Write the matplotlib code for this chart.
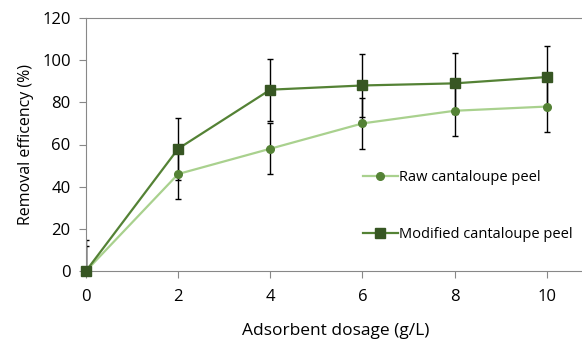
import matplotlib.pyplot as plt
from matplotlib.lines import Line2D

plt.rcParams['font.family'] = ['Open Sans', 'DejaVu Sans']

dosage = [0, 2, 4, 6, 8, 10]
raw = [0, 46, 58, 70, 76, 78]
modified = [0, 58, 86, 88, 89, 92]
raw_err = [12, 12, 12, 12, 12, 12]
mod_err = [14.7, 14.7, 14.7, 14.8, 14.6, 14.7]

raw_style = dict(color='#a9d18e', lw=1.6, marker='o', ms=5.5,
                 mfc='#548235', mec='#548235')
mod_style = dict(color='#548235', lw=1.6, marker='s', ms=6.5,
                 mfc='#375623', mec='#375623')

fig = plt.figure(figsize=(5.82, 3.4), dpi=100)
ax = fig.add_axes([86 / 582, 69 / 340, 500 / 582, 253 / 340])

# error bars (clipped at the axes), then lines + markers on top unclipped
ax.errorbar(dosage, raw, yerr=raw_err, fmt='none', ecolor='black',
            elinewidth=1, capsize=2.5, capthick=1, zorder=2)
ax.errorbar(dosage, modified, yerr=mod_err, fmt='none', ecolor='black',
            elinewidth=1, capsize=2.5, capthick=1, zorder=2)
ax.plot(dosage, raw, clip_on=False, zorder=3, **raw_style)
ax.plot(dosage, modified, clip_on=False, zorder=4, **mod_style)

ax.set_xlim(0, 10.85)
ax.set_ylim(0, 120)
ax.set_xticks([0, 2, 4, 6, 8, 10])
ax.set_yticks([0, 20, 40, 60, 80, 100, 120])
ax.tick_params(labelsize=12, color='#888888', length=5, pad=6)
ax.tick_params(axis='x', pad=8)
for s in ['left', 'bottom', 'top']:
    ax.spines[s].set_color('#888888')
ax.spines['right'].set_visible(False)

ax.set_xlabel('Adsorbent dosage (g/L)', fontsize=12.5, labelpad=13)
ax.set_ylabel('Removal efficency (%)', fontsize=11.5, labelpad=6)

handles = [Line2D([], [], **raw_style), Line2D([], [], **mod_style)]
labels = ['Raw cantaloupe peel', 'Modified cantaloupe peel']
ax.legend(handles, labels, loc='center left', bbox_to_anchor=(0.527, 0.257),
          frameon=False, fontsize=10.5, labelspacing=2.9, handlelength=2.4,
          handletextpad=0.1)

fig.savefig('out.png', dpi=100)
